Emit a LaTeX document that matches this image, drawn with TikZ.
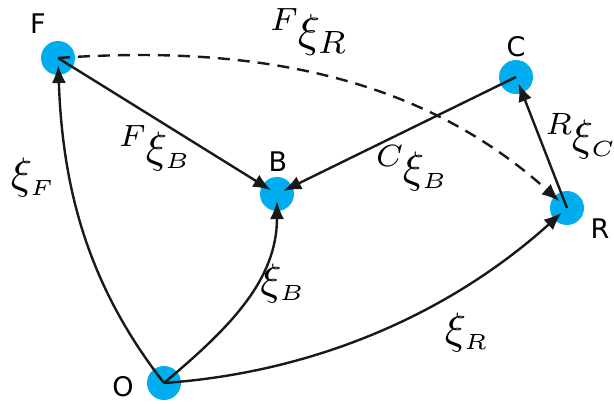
\documentclass[tikz,border=0pt]{standalone}
\usepackage{amsmath}
\usepackage{fontspec}
\setsansfont{DejaVu Sans}
\usetikzlibrary{arrows.meta}
\definecolor{dotblue}{RGB}{0,174,239}
\newcommand{\myxlbl}[1]{\scalebox{4.4}{$#1$}}
\begin{document}
\begin{tikzpicture}[x=1pt,y=-1pt,
  bnode/.style={circle,fill=dotblue,minimum size=34pt,inner sep=0pt},
  lbl/.style={font=\sffamily\fontsize{27}{30}\selectfont,inner sep=0pt},
  mlbl/.style={inner sep=0pt},
  conn/.style={line width=2.4pt,draw=black!90,-{Latex[length=18pt,width=14pt]},shorten >=7pt},
]
\useasboundingbox (0,0) rectangle (614,404);
% nodes
\node[bnode] (F) at (58,58) {};
\node[bnode] (C) at (516,77) {};
\node[bnode] (B) at (277,194) {};
\node[bnode] (R) at (567,208) {};
\node[bnode] (O) at (164,383) {};
% node labels
\node[lbl] (lF) at (38,24) {F};
\node[lbl] (lC) at (516,47) {C};
\node[lbl] (lB) at (278,162) {B};
\node[lbl] (lR) at (600,229) {R};
\node[lbl] (lO) at (123,387) {O};
% connectors
\draw[conn] (O.center) to[out=128,in=-88,looseness=0.95] (F.center);
\draw[conn] (O.center) to[out=40,in=-90,looseness=1.0] (B.center);
\draw[conn] (O.center) to[out=4,in=-138,looseness=0.9] (R.center);
\draw[conn] (F.center) -- (B.center);
\draw[conn] (C.center) -- (B.center);
\draw[conn] (R.center) -- (C.center);
\draw[conn,dash pattern=on 12pt off 8pt,shorten >=10pt] (F.center) to[out=4,in=138,looseness=0.95] (R.center);
% edge labels
\node[mlbl] (tF) at (33,178) {\myxlbl{\xi_{\scriptscriptstyle F}}};
\node[mlbl] (tFB) at (155,148) {\myxlbl{{}^{F}\mkern-1mu\xi_{\scriptscriptstyle B}}};
\node[mlbl] (tFR) at (309,32) {\scalebox{4.6}{${}^{F}\mkern-1mu\xi_{R}$}};
\node[mlbl] (tCB) at (412,168) {\myxlbl{{}^{C}\mkern-1mu\xi_{\scriptscriptstyle B}}};
\node[mlbl] (tRC) at (581,136) {\myxlbl{{}^{R}\mkern-1mu\xi_{\scriptscriptstyle C}}};
\node[mlbl] (tB) at (283,283) {\myxlbl{\xi_{\scriptscriptstyle B}}};
\node[mlbl] (tR) at (467,332) {\myxlbl{\xi_{\scriptscriptstyle R}}};
\end{tikzpicture}
\end{document}
